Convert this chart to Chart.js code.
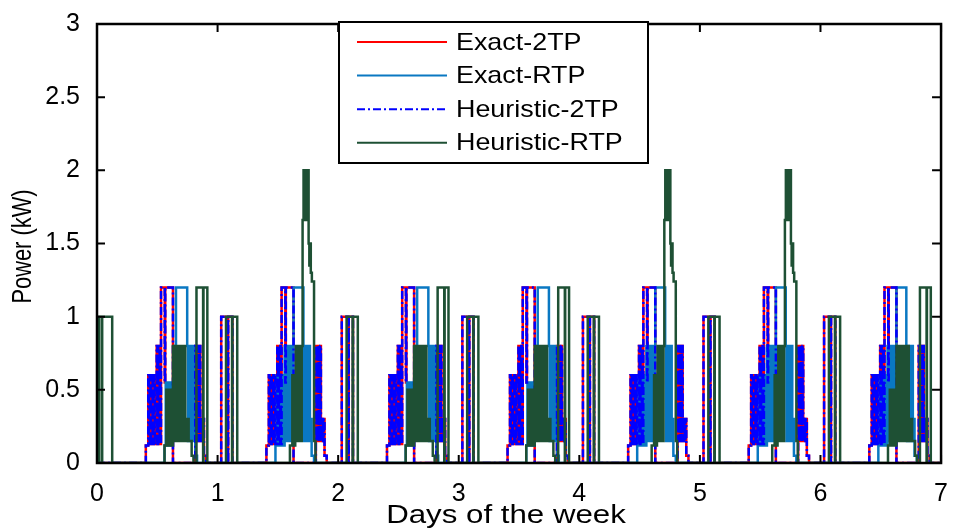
<!DOCTYPE html>
<html lang="en">
  <head>
    <meta charset="UTF-8">
    <title>Power schedule over a week</title>
    <script src="https://cdn.jsdelivr.net/npm/chart.js"></script>
    <style>
      html, body { margin: 0; padding: 0; background: #fff; }
      #wrap { width: 956px; height: 531px; position: relative; }
    </style>
  </head>
  <body>
    <div id="wrap"><canvas id="myChart"></canvas></div>
    <script>
      // days shown on the x axis
      const days = [0, 1, 2, 3, 4, 5, 6];
      const dayTicks = [0, 1, 2, 3, 4, 5, 6, 7];
      const powerTicks = [0, 0.5, 1, 1.5, 2, 2.5, 3];
      const seriesNames = ['Exact-2TP', 'Exact-RTP', 'Heuristic-2TP', 'Heuristic-RTP'];
      const xTitle = 'Days of the week';
      const yTitle = 'Power (kW)';

      // daily load under two-tier pricing (same for exact and heuristic), time = fraction of day
      const tp2T = [0.405, 0.425, 0.431, 0.437, 0.443, 0.449, 0.455, 0.461, 0.467, 0.473, 0.479,
                    0.495, 0.501, 0.507, 0.513, 0.519, 0.525, 0.531, 0.562, 0.566, 0.630,
                    0.815, 0.821, 0.827, 0.833, 0.839, 0.845, 0.851, 0.857, 0.863, 0.869, 0.875, 0.881, 0.887, 0.905,
                    1.030, 1.085, 1.088, 1.123];
      const tp2P = [0.12, 0.6, 0.13, 0.6, 0.13, 0.6, 0.13, 0.6, 0.13, 0.6, 0.13,
                    0.8, 0.13, 0.8, 0.13, 0.8, 0.13, 1.2, 0.55, 1.2, 0,
                    0.8, 0.15, 0.8, 0.15, 0.8, 0.15, 0.8, 0.3, 0.15, 0.3, 0.15, 0.3, 0.05, 0,
                    1, 0, 1, 0];

      // exact RTP, two kinds of day
      const rtpAT = [0.560, 0.570, 0.576, 0.582, 0.588, 0.594, 0.600, 0.606, 0.612, 0.618, 0.624, 0.630,
                     0.640, 0.655, 0.748, 0.754, 0.760, 0.766, 0.772, 0.778, 0.784, 0.790, 0.796, 0.802, 0.815, 0.830];
      const rtpAP = [0.12, 0.55, 0.12, 0.55, 0.12, 0.55, 0.12, 0.55, 0.12, 0.55, 0.12, 0.55,
                     0.8, 1.2, 0.8, 0.15, 0.8, 0.15, 0.8, 0.15, 0.8, 0.15, 0.8, 0.3, 0.05, 0];
      const rtpBT = [0.480, 0.490, 0.496, 0.502, 0.508, 0.514, 0.520, 0.526, 0.532, 0.538, 0.544,
                     0.556, 0.562, 0.568, 0.574, 0.580, 0.586, 0.592, 0.598, 0.604, 0.610, 0.616, 0.622,
                     0.630, 0.712, 0.718, 0.724, 0.730, 0.736, 0.742, 0.748, 0.754, 0.760, 0.766, 0.780, 0.800];
      const rtpBP = [0.12, 0.6, 0.12, 0.6, 0.12, 0.6, 0.12, 0.6, 0.12, 0.6, 0.12,
                     0.8, 0.15, 0.8, 0.15, 0.8, 0.15, 0.8, 0.15, 0.8, 0.15, 0.8, 0.15,
                     1.2, 0.8, 0.15, 0.8, 0.15, 0.8, 0.15, 0.8, 0.15, 0.8, 0.3, 0.05, 0];
      const exactRtpDay = ['A', 'B', 'A', 'A', 'B', 'B', 'B'];

      // heuristic RTP, two kinds of day (B has the 2 kW peak)
      const heurAT = [0.560, 0.575, 0.590, 0.605, 0.620, 0.630, 0.636, 0.642, 0.648, 0.654, 0.660, 0.666,
                      0.672, 0.678, 0.684, 0.690, 0.696, 0.702, 0.708, 0.714, 0.720, 0.726, 0.732, 0.740,
                      0.760, 0.785, 0.800, 0.825, 0.880, 0.883, 0.915, 1.070, 1.120, 1.123, 1.163];
      const heurAP = [0.12, 0.5, 0.12, 0.5, 0.12, 0.8, 0.15, 0.8, 0.15, 0.8, 0.15, 0.8,
                      0.15, 0.8, 0.15, 0.8, 0.15, 0.8, 0.15, 0.8, 0.15, 0.8, 0.15, 0.3,
                      0.15, 0.05, 0, 1.2, 0, 1.2, 0, 1, 0, 1, 0];
      const heurBT = [0.600, 0.620, 0.626, 0.632, 0.638, 0.644, 0.650, 0.656, 0.662, 0.668, 0.674, 0.680,
                      0.686, 0.692, 0.698, 0.705, 0.713, 0.719, 0.725, 0.731, 0.737, 0.743, 0.749,
                      0.755, 0.761, 0.767, 0.773, 0.782, 0.800, 0.812, 1.070, 1.120, 1.123, 1.163];
      const heurBP = [0.12, 0.6, 0.12, 0.6, 0.12, 0.6, 0.8, 0.15, 0.8, 0.15, 0.8, 0.15,
                      0.8, 0.15, 0.8, 1.66, 2.0, 1.66, 2.0, 1.66, 2.0, 1.66, 2.0,
                      1.5, 1.35, 1.5, 1.3, 1.24, 0.15, 0, 1, 0, 1, 0];
      const heurDay = ['A', 'B', 'A', 'A', 'B', 'B', 'A'];
      // block running just after midnight on the first day
      const heurStartT = [0.016, 0.040, 0.043, 0.126];
      const heurStartP = [1, 0, 1, 0];

      function weekSeries(pick, startT, startP) {
        const pts = [{x: 0, y: 0}];
        startT.forEach((t, i) => pts.push({x: t, y: startP[i]}));
        days.forEach(d => {
          const [ts, ps] = pick(d);
          ts.forEach((t, i) => pts.push({x: d + t, y: ps[i]}));
        });
        return pts;
      }

      const exact2tp = weekSeries(() => [tp2T, tp2P], [], []);
      const heur2tp = weekSeries(() => [tp2T, tp2P], [], []);
      const exactRtp = weekSeries(d => exactRtpDay[d] === 'A' ? [rtpAT, rtpAP] : [rtpBT, rtpBP], [], []);
      const heurRtp = weekSeries(d => heurDay[d] === 'A' ? [heurAT, heurAP] : [heurBT, heurBP], heurStartT, heurStartP);

      const FONT = "'Liberation Sans', Arial, sans-serif";
      Chart.defaults.font.family = FONT;
      Chart.defaults.color = '#000';

      // MATLAB-like box with inward ticks, plus the two axis titles
      const framePlugin = {
        id: 'frame',
        afterDatasetsDraw(chart) {
          const {ctx, chartArea: a, scales: {x, y}} = chart;
          ctx.save();
          ctx.strokeStyle = '#000';
          ctx.lineWidth = 2.5;
          ctx.strokeRect(a.left, a.top, a.right - a.left, a.bottom - a.top);
          ctx.lineWidth = 2;
          ctx.beginPath();
          dayTicks.forEach(v => {
            const px = x.getPixelForValue(v);
            ctx.moveTo(px, a.bottom); ctx.lineTo(px, a.bottom - 8);
            ctx.moveTo(px, a.top); ctx.lineTo(px, a.top + 8);
          });
          powerTicks.forEach(v => {
            const py = y.getPixelForValue(v);
            ctx.moveTo(a.left, py); ctx.lineTo(a.left + 8, py);
            ctx.moveTo(a.right, py); ctx.lineTo(a.right - 9, py);
          });
          ctx.stroke();

          ctx.fillStyle = '#000';
          ctx.textAlign = 'center';
          ctx.textBaseline = 'middle';
          ctx.save();
          ctx.font = '25px ' + FONT;
          ctx.translate((a.left + a.right) / 2 - 13, x.bottom - 15);
          ctx.scale(1.25, 1);
          ctx.fillText(xTitle, 0, 0);
          ctx.restore();
          ctx.save();
          ctx.font = '28px ' + FONT;
          ctx.translate(y.left + 23, (a.top + a.bottom) / 2 + 3);
          ctx.rotate(-Math.PI / 2);
          ctx.scale(0.78, 1);
          ctx.fillText(yTitle, 0, 0);
          ctx.restore();
          ctx.restore();
        }
      };

      const legendPlugin = {
        id: 'boxLegend',
        afterDraw(chart) {
          const {ctx} = chart;
          const box = {left: 339, top: 22, width: 309, height: 141};
          ctx.save();
          ctx.fillStyle = '#fff';
          ctx.fillRect(box.left, box.top, box.width, box.height);
          ctx.strokeStyle = '#000';
          ctx.lineWidth = 2;
          ctx.strokeRect(box.left, box.top, box.width, box.height);
          ctx.font = '24px ' + FONT;
          ctx.textBaseline = 'middle';
          chart.data.datasets.forEach((ds, i) => {
            const yy = box.top + 20 + i * 33.6;
            ctx.strokeStyle = ds.borderColor;
            ctx.lineWidth = 2;
            ctx.setLineDash(ds.borderDash || []);
            ctx.beginPath();
            ctx.moveTo(box.left + 18, yy);
            ctx.lineTo(box.left + 108, yy);
            ctx.stroke();
            ctx.setLineDash([]);
            ctx.fillStyle = '#000';
            ctx.save();
            ctx.translate(box.left + 117, yy + 1);
            ctx.scale(1.12, 1);
            ctx.fillText(ds.label, 0, 0);
            ctx.restore();
          });
          ctx.restore();
        }
      };

      const ctx = document.getElementById('myChart');
      new Chart(ctx, {
        type: 'line',
        data: {
          datasets: [
            {label: seriesNames[0], data: exact2tp, borderColor: '#ff0000', borderWidth: 2.5, order: 3},
            {label: seriesNames[1], data: exactRtp, borderColor: '#0a78c2', borderWidth: 2.5, order: 2},
            {label: seriesNames[2], data: heur2tp, borderColor: '#0000ff', borderWidth: 2.5, borderDash: [8, 3, 2, 3], order: 1},
            {label: seriesNames[3], data: heurRtp, borderColor: '#1e5034', borderWidth: 2.5, order: 0}
          ]
        },
        options: {
          responsive: true,
          maintainAspectRatio: false,
          animation: false,
          devicePixelRatio: 1,
          elements: {
            line: {stepped: true, tension: 0, fill: false},
            point: {radius: 0, hoverRadius: 0}
          },
          layout: {padding: {top: 16, right: 8, bottom: 0, left: 0}},
          plugins: {legend: {display: false}, tooltip: {enabled: false}},
          scales: {
            x: {
              type: 'linear', min: 0, max: 7,
              grid: {display: false},
              border: {display: false},
              ticks: {stepSize: 1, padding: 8, font: {size: 25}},
              afterFit: s => { s.height = 68; }
            },
            y: {
              type: 'linear', min: 0, max: 3,
              grid: {display: false},
              border: {display: false},
              ticks: {stepSize: 0.5, padding: 9, font: {size: 25}, callback: v => String(v)},
              afterFit: s => { s.width = 97; }
            }
          }
        },
        plugins: [framePlugin, legendPlugin]
      });
    </script>
  </body>
</html>
